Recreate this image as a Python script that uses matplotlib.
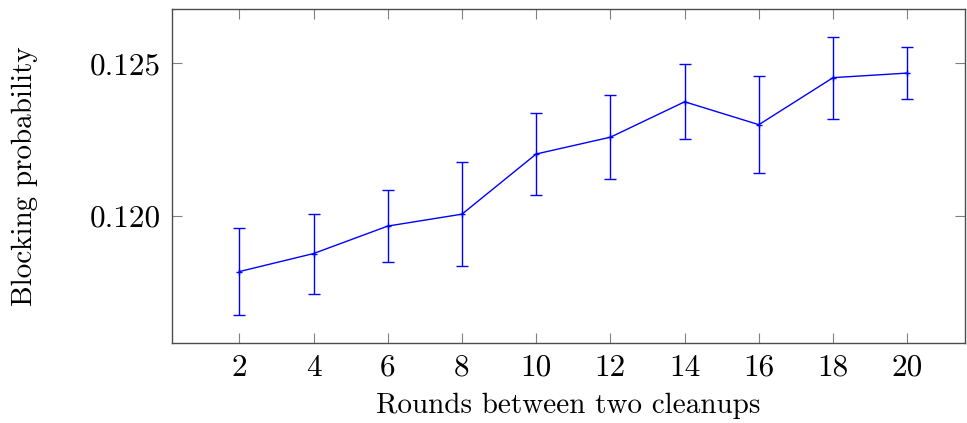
import matplotlib
matplotlib.use("Agg")
import matplotlib.pyplot as plt

rounds = [2, 4, 6, 8, 10, 12, 14, 16, 18, 20]
blocking = [0.11818, 0.11877, 0.11967, 0.12006, 0.12203, 0.12258, 0.12374, 0.12299, 0.12453, 0.12468]
errors = [0.00142, 0.00131, 0.00118, 0.00170, 0.00134, 0.00138, 0.00123, 0.00158, 0.00134, 0.00086]
x_ticks = [2, 4, 6, 8, 10, 12, 14, 16, 18, 20]
y_ticks = [0.120, 0.125]
y_tick_labels = ["0.120", "0.125"]

plt.rcParams['font.family'] = ['cmr10', 'DejaVu Serif']
plt.rcParams['axes.formatter.use_mathtext'] = True

fig = plt.figure(figsize=(9.67, 4.23), dpi=100)
ax = fig.add_axes([172/967, 1 - 342.7/423, (965-172)/967, (342.7-9)/423])

ax.errorbar(rounds, blocking, yerr=errors, color=(0, 0, 1), lw=1.0,
            marker='+', markersize=5, markeredgewidth=1.0,
            elinewidth=1.0, capsize=4.5, capthick=1.0)

ax.set_xlim(0.186, 21.555)
ax.set_ylim(0.115851, 0.126778)
ax.set_xticks(x_ticks)
ax.set_xticklabels([str(v) for v in x_ticks])
ax.set_yticks(y_ticks)
ax.set_yticklabels(y_tick_labels)

ax.tick_params(direction='in', length=7.5, width=0.8, color='0.5',
               top=True, right=True, labelsize=22.5, pad=8)
for s in ax.spines.values():
    s.set_color('0.3')
    s.set_linewidth(1.0)

ax.set_xlabel("Rounds between two cleanups", fontsize=21, labelpad=8)
ax.set_ylabel("Blocking probability", fontsize=21, labelpad=37)

fig.savefig("out.png", dpi=100)
